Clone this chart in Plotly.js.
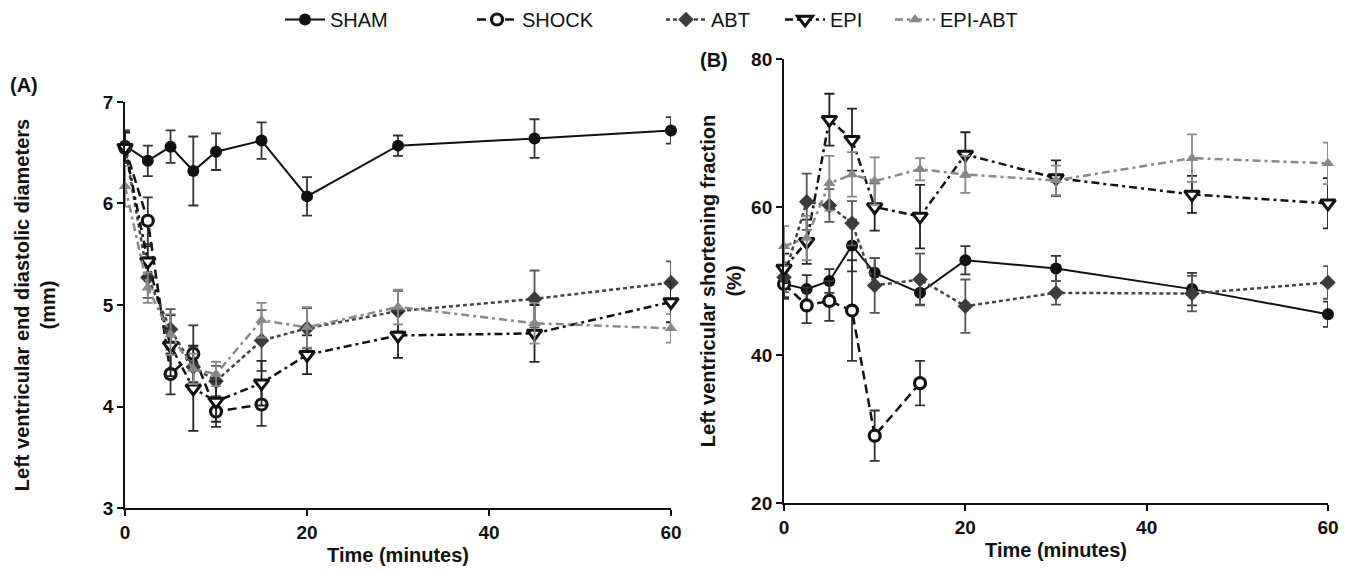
<!DOCTYPE html>
<html>
<head>
<meta charset="utf-8">
<script src="https://cdn.plot.ly/plotly-3.0.1.min.js"></script>
<style>html,body{margin:0;padding:0;background:#fff;}#chart{width:1349px;height:571px;}</style>
</head>
<body>
<div id="chart"></div>
<script>
// ---- Data ----
const time = [0, 2.5, 5, 7.5, 10, 15, 20, 30, 45, 60];
const seriesNames = ["SHAM", "SHOCK", "ABT", "EPI", "EPI-ABT"];

// Panel A: Left ventricular end diastolic diameters (mm)
const shamA      = [6.57, 6.42, 6.56, 6.32, 6.51, 6.62, 6.07, 6.57, 6.64, 6.72];
const shamA_err  = [0.15, 0.15, 0.16, 0.34, 0.18, 0.18, 0.19, 0.10, 0.19, 0.13];
const shockA     = [6.55, 5.83, 4.32, 4.52, 3.95, 4.02, null, null, null, null];
const shockA_err = [0.15, 0.23, 0.20, 0.28, 0.15, 0.21, null, null, null, null];
const abtA       = [6.55, 5.27, 4.76, 4.39, 4.25, 4.65, 4.77, 4.94, 5.06, 5.22];
const abtA_err   = [0.15, 0.20, 0.20, 0.20, 0.15, 0.30, 0.20, 0.20, 0.28, 0.21];
const epiA       = [6.55, 5.43, 4.60, 4.18, 4.05, 4.23, 4.51, 4.70, 4.72, 5.03];
const epiA_err   = [0.15, 0.15, 0.30, 0.42, 0.20, 0.22, 0.19, 0.22, 0.28, 0.20];
const epiAbtA    = [6.17, 5.17, 4.71, 4.37, 4.32, 4.85, 4.78, 4.98, 4.82, 4.77];
const epiAbtA_err= [0.20, 0.15, 0.20, 0.15, 0.12, 0.17, 0.20, 0.17, 0.20, 0.14];

// Panel B: Left ventricular shortening fraction (%)
const shamB      = [49.6, 48.9, 50.0, 54.8, 51.1, 48.4, 52.8, 51.7, 48.9, 45.5];
const shamB_err  = [1.8, 1.9, 1.6, 3.5, 2.0, 1.6, 1.9, 1.7, 2.2, 1.7];
const shockB     = [49.6, 46.7, 47.3, 46.0, 29.1, 36.2, null, null, null, null];
const shockB_err = [2.0, 2.4, 2.7, 6.8, 3.4, 3.0, null, null, null, null];
const abtB       = [50.5, 60.7, 60.2, 57.8, 49.4, 50.2, 46.6, 48.4, 48.3, 49.8];
const abtB_err   = [2.0, 3.8, 2.2, 3.0, 3.7, 3.5, 3.6, 1.6, 2.4, 2.2];
const epiB       = [51.7, 55.3, 71.8, 69.1, 60.0, 58.7, 67.1, 63.9, 61.7, 60.5];
const epiB_err   = [2.0, 3.0, 3.5, 4.2, 3.2, 4.3, 3.0, 2.4, 2.5, 3.4];
const epiAbtB    = [54.7, 55.8, 63.2, 64.4, 63.5, 65.1, 64.4, 63.6, 66.6, 65.9];
const epiAbtB_err= [2.7, 3.0, 3.7, 3.0, 3.2, 1.5, 2.5, 2.0, 3.2, 2.8];

const ticksA = [3, 4, 5, 6, 7];
const ticksB = [20, 40, 60, 80];
const ticksX = [0, 20, 40, 60];

// ---- Styles ----
const styles = [
  {line:{color:'#111', width:2, dash:'solid'}, marker:{symbol:'circle', size:12, color:'#111'}, err:'#333', legend:'legend'},
  {line:{color:'#111', width:2.5, dash:'9px,5px'}, marker:{symbol:'circle', size:11, color:'#fff', line:{color:'#111', width:3.2}}, err:'#333', legend:'legend2'},
  {line:{color:'#444', width:2.5, dash:'4px,3px'}, marker:{symbol:'diamond', size:12, color:'#3c3c3c'}, err:'#555', legend:'legend3'},
  {line:{color:'#111', width:2.5, dash:'8px,4px,3px,4px'}, marker:{symbol:'triangle-down', size:13, color:'#fff', line:{color:'#111', width:3}}, err:'#222', legend:'legend4'},
  {line:{color:'#888', width:2.5, dash:'8px,4px,3px,4px'}, marker:{symbol:'triangle-up', size:11, color:'#888'}, err:'#888', legend:'legend5'}
];

const dataA = [[shamA, shamA_err],[shockA, shockA_err],[abtA, abtA_err],[epiA, epiA_err],[epiAbtA, epiAbtA_err]];
const dataB = [[shamB, shamB_err],[shockB, shockB_err],[abtB, abtB_err],[epiB, epiB_err],[epiAbtB, epiAbtB_err]];

const traces = [];
function addTraces(set, xa, ya, showLegend) {
  set.forEach((d, i) => {
    const s = styles[i];
    traces.push({
      type: 'scatter', mode: 'lines+markers',
      x: time, y: d[0], name: seriesNames[i],
      xaxis: xa, yaxis: ya,
      connectgaps: false,
      cliponaxis: false,
      line: s.line, marker: s.marker,
      error_y: {type:'data', array: d[1], visible:true, color: s.err, thickness:1.8, width:5},
      showlegend: showLegend,
      legend: s.legend
    });
  });
}
addTraces(dataA, 'x', 'y', true);
addTraces(dataB, 'x2', 'y2', false);

const FAM = 'Liberation Sans, Arial, sans-serif';
const tickFont = {family:FAM, size:19, color:'#111', weight:'bold'};
const titleFont = {family:FAM, size:20, color:'#111', weight:'bold'};

function axisCommon() {
  return {
    showgrid:false, zeroline:false, showline:true, linecolor:'#111', linewidth:2,
    ticks:'outside', ticklen:6, tickwidth:2, tickcolor:'#111', tickfont: tickFont
  };
}

const legendBase = (x) => ({
  x: x, y: 1.0, xanchor:'left', yanchor:'top', orientation:'h',
  font:{family:FAM, size:20, color:'#111'},
  bgcolor:'rgba(0,0,0,0)', itemwidth:40
});

const layout = {
  width:1349, height:571,
  margin:{l:0, r:0, t:0, b:0},
  paper_bgcolor:'#fff', plot_bgcolor:'#fff',
  showlegend:true,
  xaxis: Object.assign(axisCommon(), {domain:[0.0927, 0.4974], range:[0, 60], tickvals:ticksX, anchor:'y',
    title:{text:'Time (minutes)', font:titleFont, standoff:6}}),
  yaxis: Object.assign(axisCommon(), {domain:[0.1103, 0.8214], range:[3, 7], tickvals:ticksA, anchor:'x',
    title:{text:'Left ventricular end diastolic diameters<br>(mm)', font:titleFont, standoff:42}}),
  xaxis2: Object.assign(axisCommon(), {domain:[0.5812, 0.9844], range:[0, 60], tickvals:ticksX, anchor:'y2',
    title:{text:'Time (minutes)', font:titleFont, standoff:6}}),
  yaxis2: Object.assign(axisCommon(), {domain:[0.1191, 0.8967], range:[20, 80], tickvals:ticksB, anchor:'x2',
    title:{text:'Left ventricular shortening fraction<br>(%)', font:titleFont, standoff:4}}),
  legend: legendBase(280/1349),
  legend2: legendBase(472/1349),
  legend3: legendBase(661/1349),
  legend4: legendBase(780/1349),
  legend5: legendBase(890/1349),
  annotations: [
    {text:'<b>(A)</b>', xref:'paper', yref:'paper', x:8/1349, y:1-85/571, xanchor:'left', yanchor:'middle', showarrow:false,
     font:{family:FAM, size:20, color:'#111'}},
    {text:'<b>(B)</b>', xref:'paper', yref:'paper', x:698/1349, y:1-60/571, xanchor:'left', yanchor:'middle', showarrow:false,
     font:{family:FAM, size:20, color:'#111'}}
  ]
};

Plotly.newPlot('chart', traces, layout, {displayModeBar:false, staticPlot:true});
</script>
</body>
</html>
